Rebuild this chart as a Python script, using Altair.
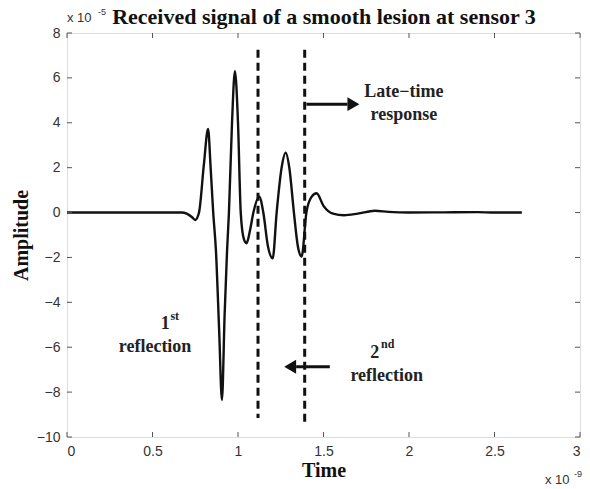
import altair as alt
import pandas as pd

# waveform (time in units of 1e-9 s, amplitude in units of 1e-5)
t = [0.0, 0.60, 0.67, 0.70, 0.73, 0.75, 0.772, 0.80, 0.825, 0.84, 0.855, 0.871, 0.89, 0.906,
     0.922, 0.936, 0.947, 0.965, 0.982, 1.0, 1.016, 1.035, 1.05, 1.07, 1.09, 1.124, 1.148,
     1.175, 1.203, 1.226, 1.255, 1.279, 1.30, 1.327, 1.35, 1.372, 1.40, 1.43, 1.46, 1.50,
     1.556, 1.62, 1.70, 1.80, 1.88, 2.0, 2.2, 2.4, 2.5, 2.66]
amp = [0.0, 0.0, 0.0, -0.05, -0.2, -0.33, 0.0, 2.1, 3.72, 2.0, 0.0, -1.7, -5.3, -8.35,
       -4.5, -1.7, 0.0, 4.0, 6.3, 4.0, 0.0, -1.2, -1.37, -0.8, 0.0, 0.71, 0.0,
       -1.5, -2.04, 0.0, 2.0, 2.67, 2.0, 0.0, -1.5, -1.96, 0.0, 0.7, 0.86, 0.3,
       -0.05, -0.12, -0.05, 0.08, 0.03, 0.0, 0.01, 0.02, 0.0, 0.0]

# dashed markers
dash_t = [1.117, 1.39]
dash_top = [7.25, 7.25]
dash_bot = [-9.15, -9.35]

# arrows
arrow_t0 = [1.40, 1.537]
arrow_t1 = [1.64, 1.34]
arrow_amp = [4.83, -6.87]
head_t = [1.675, 1.305]
head_shape = ["triangle-right", "triangle-left"]

# annotation text
ann_text = ["Late\u2212time", "response", "reflection", "reflection", "1", "2"]
ann_t = [1.97, 1.97, 0.515, 1.87, 0.575, 1.80]
ann_amp = [5.37, 4.35, -6.0, -7.3, -4.95, -6.25]
sup_text = ["st", "nd"]
sup_t = [0.63, 1.875]
sup_amp = [-4.6, -5.85]

title_text = "Received signal of a smooth lesion at sensor 3"

x_ticks = [0, 0.5, 1, 1.5, 2, 2.5, 3]
y_ticks = [-10, -8, -6, -4, -2, 0, 2, 4, 6, 8]

W, H = 513, 404
serif = "Liberation Serif"
sans = "Liberation Sans"

xs = alt.Scale(domain=[0, 3], nice=False, zero=False)
ys = alt.Scale(domain=[-10, 8], nice=False, zero=False)

wave = pd.DataFrame({"t": t, "amp": amp})
line = alt.Chart(wave).mark_line(color="#111", strokeWidth=2.4, interpolate="monotone").encode(
    x=alt.X("t:Q", scale=xs, axis=alt.Axis(values=x_ticks, format="~g", ticks=False, domain=False,
                                            grid=False, labelFont=sans, labelFontSize=14,
                                            labelColor="#333", labelPadding=7, title="Time",
                                            titleFont=serif, titleFontSize=20,
                                            titleFontWeight="bold", titleColor="#111",
                                            titlePadding=2)),
    y=alt.Y("amp:Q", scale=ys, axis=alt.Axis(values=y_ticks, ticks=False, domain=False, grid=False,
                                              labelFont=sans, labelFontSize=14, labelColor="#333",
                                              labelPadding=7, title="Amplitude", titleFont=serif,
                                              titleFontSize=20, titleFontWeight="bold",
                                              titleColor="#111", titlePadding=5)),
)

dashes = alt.Chart(pd.DataFrame({"t": dash_t, "top": dash_top, "bot": dash_bot})).mark_rule(
    color="#111", strokeWidth=3, strokeDash=[8, 5]).encode(
    x=alt.X("t:Q", scale=xs), y=alt.Y("top:Q", scale=ys), y2="bot:Q")

arrows_df = pd.DataFrame({"t0": arrow_t0, "t1": arrow_t1, "a": arrow_amp,
                          "h": head_t, "shape": head_shape})
arrow_lines = alt.Chart(arrows_df).mark_rule(color="#111", strokeWidth=3).encode(
    x=alt.X("t0:Q", scale=xs), x2="t1:Q", y=alt.Y("a:Q", scale=ys))
arrow_heads = alt.Chart(arrows_df).mark_point(filled=True, color="#111", size=190, opacity=1).encode(
    x=alt.X("h:Q", scale=xs), y=alt.Y("a:Q", scale=ys),
    shape=alt.Shape("shape:N", scale=None))

ann = alt.Chart(pd.DataFrame({"t": ann_t, "a": ann_amp, "txt": ann_text})).mark_text(
    font=serif, fontSize=18, fontWeight="bold", color="#222", align="center", baseline="middle").encode(
    x=alt.X("t:Q", scale=xs), y=alt.Y("a:Q", scale=ys), text="txt:N")
sup = alt.Chart(pd.DataFrame({"t": sup_t, "a": sup_amp, "txt": sup_text})).mark_text(
    font=serif, fontSize=12, fontWeight="bold", color="#222", align="center", baseline="middle").encode(
    x=alt.X("t:Q", scale=xs), y=alt.Y("a:Q", scale=ys), text="txt:N")

# inward ticks (MATLAB style box)
xt = pd.DataFrame({"v": x_ticks})
yt = pd.DataFrame({"v": y_ticks})
tick_style = dict(color="#555", strokeWidth=1)
xb = alt.Chart(xt).mark_rule(**tick_style).encode(x=alt.X("v:Q", scale=xs), y=alt.value(H), y2=alt.value(H - 5))
xtp = alt.Chart(xt).mark_rule(**tick_style).encode(x=alt.X("v:Q", scale=xs), y=alt.value(0), y2=alt.value(5))
yl = alt.Chart(yt).mark_rule(**tick_style).encode(y=alt.Y("v:Q", scale=ys), x=alt.value(0), x2=alt.value(5))
yr = alt.Chart(yt).mark_rule(**tick_style).encode(y=alt.Y("v:Q", scale=ys), x=alt.value(W), x2=alt.value(W - 5))

# exponent labels
exp_df = pd.DataFrame({"txt": ["x 10", "x 10"], "px": [0, 478], "py": [-15, 447]})
exp_main = alt.Chart(exp_df).mark_text(font=sans, fontSize=13, color="#333", align="left",
                                       baseline="middle").encode(
    x=alt.X("px:Q", scale=None), y=alt.Y("py:Q", scale=None), text="txt:N")
expsup_df = pd.DataFrame({"txt": ["-5", "-9"], "px": [31, 507], "py": [-21, 441]})
exp_sup = alt.Chart(expsup_df).mark_text(font=sans, fontSize=9, color="#333", align="left",
                                         baseline="middle").encode(
    x=alt.X("px:Q", scale=None), y=alt.Y("py:Q", scale=None), text="txt:N")

title = alt.Chart(pd.DataFrame({"txt": [title_text], "px": [257], "py": [-16]})).mark_text(
    font=serif, fontSize=22, fontWeight="bold", color="#111", align="center", baseline="middle").encode(
    x=alt.X("px:Q", scale=None), y=alt.Y("py:Q", scale=None), text="txt:N")

chart = alt.layer(dashes, line, arrow_lines, arrow_heads, ann, sup, xb, xtp, yl, yr,
                  exp_main, exp_sup, title).properties(
    width=W, height=H,
    autosize=alt.AutoSizeParams(type="none"),
    padding={"left": 67, "top": 33, "right": 10, "bottom": 52},
).configure_view(stroke="#555", strokeWidth=1).configure(background="white")

chart.save("out.html", embed_options={"renderer": "svg", "actions": False})
